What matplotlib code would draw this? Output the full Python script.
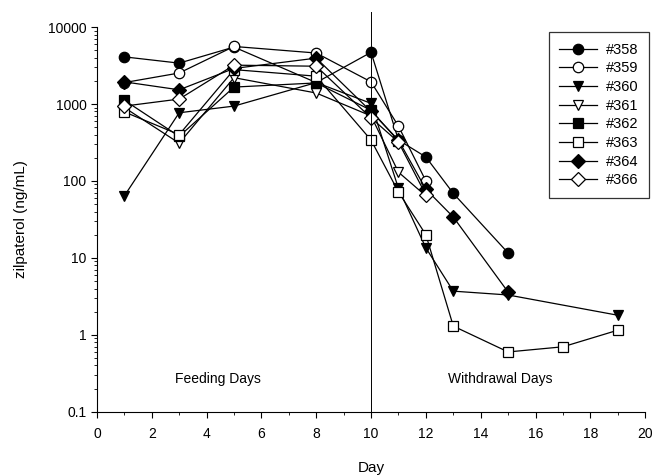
import matplotlib
matplotlib.use('Agg')
import matplotlib.pyplot as plt
from matplotlib.ticker import LogLocator, FixedLocator, NullFormatter

plt.rcParams['font.family'] = ['Liberation Sans', 'DejaVu Sans']

# Data (day, zilpaterol ng/mL)
days_358 = [1, 3, 5, 8, 10, 11, 12, 13, 15]
conc_358 = [4100, 3400, 5500, 1900, 4700, 340, 205, 69, 11.6]
days_359 = [1, 3, 5, 8, 10, 11, 12]
conc_359 = [1900, 2530, 5600, 4600, 1940, 515, 100]
days_360 = [1, 3, 5, 8, 10, 11, 12, 13, 15, 19]
conc_360 = [64, 770, 940, 1900, 1020, 80, 13.5, 3.7, 3.3, 1.8]
days_361 = [1, 3, 5, 8, 10, 11, 12]
conc_361 = [900, 310, 2200, 1390, 700, 130, 64]
days_362 = [1, 3, 5, 8, 10, 11]
conc_362 = [1120, 380, 1660, 1880, 830, 330]
days_363 = [1, 3, 5, 8, 10, 11, 12, 13, 15, 17, 19]
conc_363 = [790, 400, 2800, 2300, 340, 72, 20, 1.3, 0.6, 0.7, 1.15]
days_364 = [1, 3, 5, 8, 10, 11, 12, 13, 15]
conc_364 = [1940, 1530, 2900, 3950, 800, 340, 78, 34, 3.6]
days_366 = [1, 3, 5, 8, 10, 11, 12]
conc_366 = [940, 1160, 3200, 3100, 660, 320, 66]

series = [
    ('#358', days_358, conc_358, 'o', 'black'),
    ('#359', days_359, conc_359, 'o', 'white'),
    ('#360', days_360, conc_360, 'v', 'black'),
    ('#361', days_361, conc_361, 'v', 'white'),
    ('#362', days_362, conc_362, 's', 'black'),
    ('#363', days_363, conc_363, 's', 'white'),
    ('#364', days_364, conc_364, 'D', 'black'),
    ('#366', days_366, conc_366, 'D', 'white'),
]

fig = plt.figure(figsize=(6.55, 4.75), dpi=100)
ax = fig.add_axes([0.148, 0.133, 0.837, 0.81])

for name, d, c, m, fc in series:
    ms = 7 if m == 'D' else 7.5
    ax.plot(d, c, marker=m, color='black', markerfacecolor=fc,
            markeredgecolor='black', markersize=ms, linewidth=0.9,
            markeredgewidth=0.9, label=name)

ax.set_yscale('log')
ax.set_ylim(0.1, 10000)
ax.set_xlim(0, 20)

# vertical separator between feeding and withdrawal
ax.axvline(10, ymin=0, ymax=1.04, color='black', linewidth=0.7, clip_on=False)

ax.text(4.4, 0.27, 'Feeding Days', ha='center', va='center', fontsize=10)
ax.text(14.7, 0.27, 'Withdrawal Days', ha='center', va='center', fontsize=10)

ax.set_xlabel('Day', fontsize=11, labelpad=14)
ax.set_ylabel('zilpaterol (ng/mL)', fontsize=11, labelpad=14)

ax.set_xticks(range(0, 21, 2))
ax.xaxis.set_minor_locator(FixedLocator(range(1, 20, 2)))
ax.set_yticks([0.1, 1, 10, 100, 1000, 10000])
ax.set_yticklabels(['0.1', '1', '10', '100', '1000', '10000'])
ax.yaxis.set_minor_locator(LogLocator(base=10, subs=range(2, 10)))
ax.yaxis.set_minor_formatter(NullFormatter())

ax.tick_params(axis='both', which='major', direction='out', length=4,
               width=0.8, labelsize=10)
ax.tick_params(axis='both', which='minor', direction='out', length=2, width=0.6)
ax.tick_params(axis='x', which='major', pad=7)

ax.spines['top'].set_visible(False)
ax.spines['right'].set_visible(False)

leg = ax.legend(loc='upper right', bbox_to_anchor=(1.02, 1.005), fontsize=10.5,
                frameon=True, fancybox=False, edgecolor='black',
                handlelength=2.6, labelspacing=0.32, borderpad=0.7,
                handletextpad=0.6)
leg.get_frame().set_linewidth(0.9)

fig.savefig('out.png', dpi=100)
